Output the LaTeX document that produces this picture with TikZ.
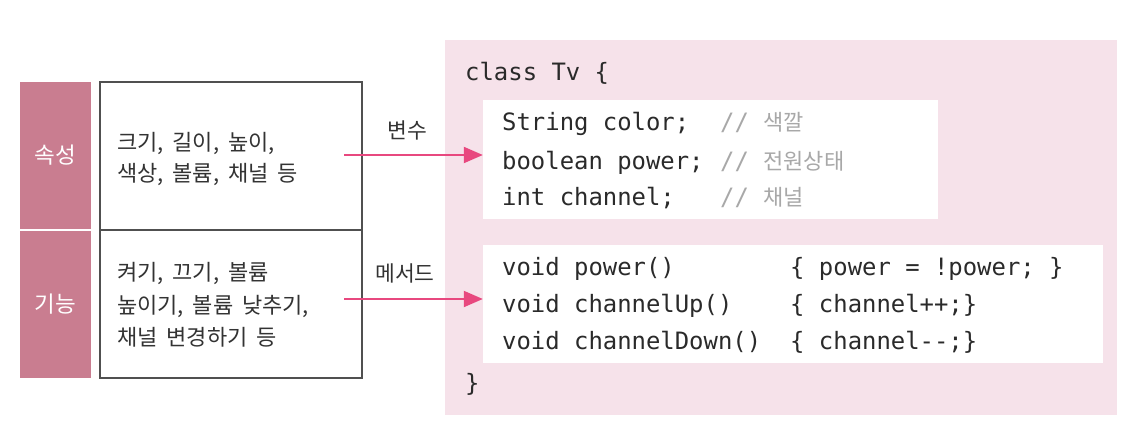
\documentclass[tikz,border=0pt]{standalone}
\usepackage{fontspec}
\setmainfont{Noto Sans CJK KR}
\newfontfamily\widekr[WordSpace=1.8]{Noto Sans CJK KR}
\newfontfamily\codefont{DejaVu Sans Mono}
\usetikzlibrary{arrows.meta}
\definecolor{rose}{HTML}{C97D90}
\definecolor{panelpink}{HTML}{F6E2EA}
\definecolor{arrowpink}{HTML}{E8487F}
\definecolor{txt}{HTML}{333333}
\definecolor{codetxt}{HTML}{2A2A2A}
\definecolor{cmt}{HTML}{A8A8A8}
\definecolor{boxline}{HTML}{505050}
\begin{document}
\begin{tikzpicture}[x=1pt,y=-1pt,
  labelcell/.style={fill=rose,minimum width=71pt,minimum height=147pt,inner sep=0pt,text=white,font=\fontsize{22.5}{26}\selectfont},
  framecell/.style={draw=boxline,line width=1.3pt,minimum width=262pt,minimum height=148pt,inner sep=0pt},
  kline/.style={anchor=west,inner sep=0pt,text=txt,font=\widekr\fontsize{22}{26}\selectfont,text height=16pt,text depth=0pt},
  arrlabel/.style={inner sep=0pt,text=txt,font=\fontsize{21.5}{26}\selectfont},
  codeline/.style={anchor=west,inner sep=0pt,text=codetxt,font=\codefont\fontsize{23.9}{28}\selectfont,text height=15pt,text depth=0pt},
  cmtline/.style={anchor=west,inner sep=0pt,text=cmt,font=\fontsize{22}{26}\selectfont,text height=15pt,text depth=0pt},
  codebox/.style={fill=white,inner sep=0pt},
  arr/.style={draw=arrowpink,line width=2pt,-{Triangle[length=19pt,width=16pt]}}
]
\useasboundingbox[fill=white] (0,0) rectangle (1133,428);

% left column labels
\node[labelcell] (prop) at (55.5,155.5) {속성};
\node[labelcell] (func) at (55.5,304.5) {기능};

% left framed box
\node[framecell] (propbox) at (231,156) {};
\node[framecell] (funcbox) at (231,304) {};

\node[kline] (p1) at (117,142) {크기, 길이, 높이,};
\node[kline] (p2) at (117,173) {색상, 볼륨, 채널 등};
\node[kline] (f1) at (117,272) {켜기, 끄기, 볼륨};
\node[kline] (f2) at (117,305) {높이기, 볼륨 낮추기,};
\node[kline] (f3) at (117,337) {채널 변경하기 등};

% class panel
\node[fill=panelpink,minimum width=672pt,minimum height=375pt,inner sep=0pt] (panel) at (781,227.5) {};
\node[codebox,minimum width=455pt,minimum height=119pt] (box1) at (710.5,159.5) {};
\node[codebox,minimum width=620pt,minimum height=118pt] (box2) at (793,304) {};

\node[codeline] (cls) at (465,73) {class Tv \{};
\node[codeline] (v1) at (502,123) {String color;};
\node[codeline] (v2) at (502,162) {boolean power;};
\node[codeline] (v3) at (502,198) {int channel;};
\node[cmtline] (c1) at (720,123) {{\codefont\fontsize{23.9}{28}\selectfont //~}색깔};
\node[cmtline] (c2) at (720,162) {{\codefont\fontsize{23.9}{28}\selectfont //~}전원상태};
\node[cmtline] (c3) at (720,198) {{\codefont\fontsize{23.9}{28}\selectfont //~}채널};

\node[codeline] (m1) at (502,268) {void power()};
\node[codeline] (m2) at (502,305) {void channelUp()};
\node[codeline] (m3) at (502,342) {void channelDown()};
\node[codeline] (b1) at (790,268) {\{ power = !power; \}};
\node[codeline] (b2) at (790,305) {\{ channel++;\}};
\node[codeline] (b3) at (790,342) {\{ channel-{}-;\}};
\node[codeline] (cend) at (465,384) {\}};

% connectors
\coordinate (a1) at (344,155);
\coordinate (a2) at (344,299);
\draw[arr] (a1) -- (a1 -| box1.west);
\draw[arr] (a2) -- (a2 -| box2.west);
\node[arrlabel] (lv) at (407,130) {변수};
\node[arrlabel] (lm) at (405,273) {메서드};
\end{tikzpicture}
\end{document}
